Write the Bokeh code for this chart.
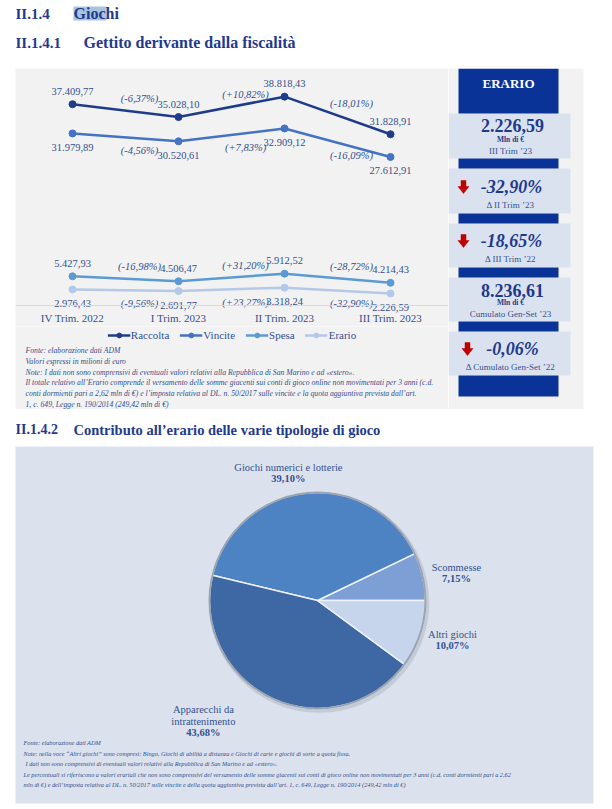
import numpy as np
from bokeh.plotting import figure
from bokeh.models import ColumnDataSource, Range1d, FixedTicker, Legend, LegendItem, Spacer
from bokeh.layouts import column, row
from bokeh.core.properties import value
from bokeh.embed import file_html
from bokeh.resources import INLINE

SERIF = "Liberation Serif"

# ---------------- data ----------------
quarters = ["IV Trim. 2022", "I Trim. 2023", "II Trim. 2023", "III Trim. 2023"]
raccolta = [37409.77, 35028.10, 38818.43, 31828.91]
vincite = [31979.89, 30520.61, 32909.12, 27612.91]
spesa = [5427.93, 4506.47, 5912.52, 4214.43]
erario = [2976.43, 2691.77, 3318.24, 2226.59]
series_names = ["Raccolta", "Vincite", "Spesa", "Erario"]

kpi_values = ["2.226,59", "-32,90%", "-18,65%", "8.236,61", "-0,06%"]
kpi_units = ["Mln di €", "", "", "Mln di €", ""]
kpi_captions = ["III Trim ’23", "Δ II Trim ’23", "Δ III Trim ’22",
                "Cumulato Gen-Set ’23", "Δ Cumulato Gen-Set ’22"]

pie_labels = ["Scommesse", "Giochi numerici e lotterie",
              "Apparecchi da\nintrattenimento", "Altri giochi"]
pie_shares = [7.15, 39.10, 43.68, 10.07]

notes_1 = [
    "Fonte: elaborazione dati ADM",
    "Valori espressi in milioni di euro",
    "Note: I dati non sono comprensivi di eventuali valori relativi alla Repubblica di San Marino e ad «estero».",
    "Il totale relativo all’Erario comprende il versamento delle somme giacenti sui conti di gioco online non movimentati per 3 anni (c.d.",
    "conti dormienti pari a 2,62 mln di €) e l’imposta relativa al DL. n. 50/2017 sulle vincite e la quota aggiuntiva prevista dall’art.",
    "1, c. 649, Legge n. 190/2014 (249,42 mln di €)",
]
notes_2 = [
    "Fonte: elaborazione dati ADM",
    "Note: nella voce “Altri giochi” sono compresi: Bingo, Giochi di abilità a distanza e Giochi di carte e giochi di sorte a quota fissa.",
    " I dati non sono comprensivi di eventuali valori relativi alla Repubblica di San Marino e ad «estero».",
    "Le percentuali si riferiscono a valori erariali che non sono comprensivi del versamento delle somme giacenti sui conti di gioco online non movimentati per 3 anni (c.d. conti dormienti pari a 2,62",
    "mln di €) e dell’imposta relativa al DL. n. 50/2017 sulle vincite e della quota aggiuntiva prevista dall’art. 1, c. 649, Legge n. 190/2014 (249,42 mln di €)",
]

# ---------------- styles ----------------
GRAY = "#f2f2f2"
PIE_BG = "#dbe2ed"
HEAD = "#1f3a8f"
TXT = "#33508f"
NAVY = "#1f3a8c"
DARK = "#0a3397"
LIGHT = "#dae2ef"
series_colors = ["#1f3c8a", "#4472c4", "#5b9bd5", "#b4c9e8"]
series_side = ["above", "below", "above", "below"]
pie_colors = ["#7e9fd5", "#4d82c3", "#3e68a4", "#c7d5ec"]

# full-width figures in the outer column share frame edges
BORDER_L, BORDER_R = 15, 19


def fmt_it(v):
    return f"{v:,.2f}".replace(",", "X").replace(".", ",").replace("X", ".")


def fmt_pct(a, b):
    return "(" + f"{(b / a - 1) * 100:+.2f}".replace(".", ",") + "%)"


def blank(width, height, xr, yr, bg="white", border="white", **kw):
    f = figure(width=width, height=height, x_range=xr, y_range=yr,
               output_backend="svg", toolbar_location=None,
               x_axis_location=None, y_axis_location=None,
               background_fill_color=bg, border_fill_color=border,
               outline_line_color=None, **kw)
    f.grid.visible = False
    return f


full_borders = dict(min_border_left=BORDER_L, min_border_right=BORDER_R,
                    min_border_top=0, min_border_bottom=0)

# ---------------- heading 1 ----------------
h1 = blank(612, 68, Range1d(BORDER_L, 612 - BORDER_R), Range1d(68, 0), **full_borders)
h1.quad(left=[73], right=[106], top=[6], bottom=[20], fill_color="#a9c4df", line_color=None)
h1.text(x=[15, 15], y=[13, 42], text=["II.1.4", "II.1.4.1"],
        text_font=value(SERIF), text_font_style="bold", text_font_size="15px",
        text_color=HEAD, text_baseline="middle")
h1.text(x=[73, 83], y=[13, 42], text=["Giochi", "Gettito derivante dalla fiscalità"],
        text_font=value(SERIF), text_font_style="bold", text_font_size="16px",
        text_color=HEAD, text_baseline="middle")

# ---------------- line chart ----------------
ch = figure(width=433, height=258, x_range=Range1d(-0.538, 3.547),
            y_range=Range1d(-3903, 44052), output_backend="svg", toolbar_location=None,
            y_axis_location=None, min_border_left=0, min_border_right=0,
            min_border_top=0, min_border_bottom=0,
            background_fill_color=GRAY, border_fill_color=GRAY, outline_line_color=None)
ch.grid.visible = False
idx = list(range(len(quarters)))
ax = ch.xaxis[0]
ax.fixed_location = 0
ax.ticker = FixedTicker(ticks=idx)
ax.major_label_overrides = {i: q for i, q in zip(idx, quarters)}
ax.major_tick_in = 0
ax.major_tick_out = 0
ax.minor_tick_in = 0
ax.minor_tick_out = 0
ax.axis_line_color = "#d9d9d9"
ax.major_label_standoff = 6
ax.major_label_text_font = SERIF
ax.major_label_text_font_size = "11px"
ax.major_label_text_color = TXT

for name, vals, col, side in zip(series_names, [raccolta, vincite, spesa, erario],
                                 series_colors, series_side):
    src = ColumnDataSource(dict(x=idx, y=vals, lab=[fmt_it(v) for v in vals]))
    ch.line("x", "y", source=src, line_color=col, line_width=2.5)
    ch.scatter("x", "y", source=src, size=7, fill_color=col, line_color=col)
    ch.text("x", "y", text="lab", source=src, text_font=value(SERIF),
            text_font_size="10.5px", text_color=TXT, text_align="center",
            text_baseline="middle", y_offset=-13 if side == "above" else 14)
    psrc = ColumnDataSource(dict(
        x=[i + 0.5 for i in idx[:-1]],
        y=[(a + b) / 2 for a, b in zip(vals[:-1], vals[1:])],
        lab=[fmt_pct(a, b) for a, b in zip(vals[:-1], vals[1:])]))
    ch.text("x", "y", text="lab", source=psrc, text_font=value(SERIF),
            text_font_style="italic", text_font_size="10.5px", text_color=TXT,
            text_align="center", text_baseline="middle", x_offset=14,
            y_offset=-12 if side == "above" else 13)

# ---------------- legend + notes under line chart ----------------
n1 = blank(433, 83, Range1d(0, 433), Range1d(83, 0), bg=GRAY, border=GRAY, min_border=0)
items = []
for name, col in zip(series_names, series_colors):
    # legend proxies placed outside the visible range
    lr = n1.line(x=[-50, -40], y=[-50, -50], line_color=col, line_width=2.5)
    sr = n1.scatter(x=[-50], y=[-50], size=7, fill_color=col, line_color=col)
    items.append(LegendItem(label=name, renderers=[lr, sr]))
leg = Legend(items=items, orientation="horizontal", location="top_center",
             background_fill_alpha=0, border_line_color=None,
             label_text_font=SERIF, label_text_font_size="11px", label_text_color=TXT,
             glyph_width=23, glyph_height=12, label_height=12, label_standoff=1,
             spacing=10, padding=0, margin=3)
n1.add_layout(leg)
n1.text(x=[10] * len(notes_1), y=[24 + 10.8 * i for i in range(len(notes_1))], text=notes_1,
        text_font=value(SERIF), text_font_style="italic", text_font_size="7.7px",
        text_color=TXT, text_baseline="middle")

# ---------------- right KPI panel ----------------
rp = blank(164, 341, Range1d(0, 164), Range1d(341, 0), min_border=0)
rp.quad(left=[0], right=[135], top=[0], bottom=[341], fill_color=GRAY, line_color=None)
light_y = [(45, 90), (100, 145), (155, 199), (209, 253), (263, 307)]
dark_y = [(0, 45), (90, 100), (145, 155), (199, 209), (253, 263), (307, 328)]
rp.quad(left=0, right=122, top=[a for a, b in light_y], bottom=[b for a, b in light_y],
        fill_color=LIGHT, line_color=None)
rp.quad(left=10, right=110, top=[a for a, b in dark_y], bottom=[b for a, b in dark_y],
        fill_color=DARK, line_color=None)
rp.text(x=[60], y=[15], text=["ERARIO"], text_font=value(SERIF), text_font_style="bold",
        text_font_size="13px", text_color="white", text_align="center", text_baseline="middle")

kpi_y = [57, 118, 172, 222, 280]
kpi_x = [64, 63, 63, 64, 64]
kpi_arrow_x = [None, 15, 15, None, 19]
unit_y = [71, None, None, 234, None]
cap_y = [82, 136, 190, 245, 298]
for k, v in enumerate(kpi_values):
    pct = v.endswith("%")
    rp.text(x=[kpi_x[k]], y=[kpi_y[k]], text=[v], text_font=value(SERIF),
            text_font_style="bold italic" if pct else "bold", text_font_size="18px",
            text_color=NAVY, text_align="center", text_baseline="middle")
    if kpi_units[k]:
        rp.text(x=[62], y=[unit_y[k]], text=[kpi_units[k]], text_font=value(SERIF),
                text_font_style="bold", text_font_size="7.5px", text_color=NAVY,
                text_align="center", text_baseline="middle")
    rp.text(x=[62], y=[cap_y[k]], text=[kpi_captions[k]], text_font=value(SERIF),
            text_font_size="9px", text_color=TXT, text_align="center", text_baseline="middle")
    if kpi_arrow_x[k] is not None:
        cx, cy = kpi_arrow_x[k], kpi_y[k]
        rp.patch(x=[cx - 2.5, cx + 2.5, cx + 2.5, cx + 5.5, cx, cx - 5.5, cx - 2.5],
                 y=[cy - 6, cy - 6, cy, cy, cy + 7, cy, cy],
                 fill_color="#c00000", line_color="#c00000", line_width=0.5)

# ---------------- heading 2 ----------------
h2 = blank(612, 37, Range1d(BORDER_L, 612 - BORDER_R), Range1d(37, 0), **full_borders)
h2.text(x=[15], y=[20], text=["II.1.4.2"],
        text_font=value(SERIF), text_font_style="bold", text_font_size="14px",
        text_color=HEAD, text_baseline="middle")
h2.text(x=[73], y=[20], text=["Contributo all’erario delle varie tipologie di gioco"],
        text_font=value(SERIF), text_font_style="bold", text_font_size="14.5px",
        text_color=HEAD, text_baseline="middle")

# ---------------- pie ----------------
pie = blank(612, 363, Range1d(-2.796, 2.556), Range1d(-1.880, 1.426), bg=PIE_BG,
            min_border_left=BORDER_L, min_border_right=BORDER_R,
            min_border_top=0, min_border_bottom=6)
pie.extra_x_ranges = {"px": Range1d(0, 578)}
pie.extra_y_ranges = {"px": Range1d(357, 0)}

fr = np.array(pie_shares) / 100.0
ends = np.cumsum(fr) * 2 * np.pi
starts = ends - fr * 2 * np.pi
pie.circle(x=[0.015], y=[-0.02], radius=1.02, fill_color="#b3bccb", line_color=None, fill_alpha=0.6)
pie.wedge(x=0, y=0, radius=1.0, start_angle=starts, end_angle=ends, direction="anticlock",
          fill_color=pie_colors, line_color="#eef2f8", line_width=1.5)
pie.circle(x=[0], y=[0], radius=1.0, fill_color=None, line_color="#9aa4b2", line_width=2)

pie_label_pos = [(1.287, 0.306), (-0.269, 1.231), (-1.056, -1.009), (1.25, -0.315)]
for (lx, ly), lab, sh in zip(pie_label_pos, pie_labels, pie_shares):
    lines = lab.split("\n")
    pie.text(x=[lx] * len(lines), y=[ly] * len(lines), text=lines,
             y_offset=[12 * i for i in range(len(lines))],
             text_font=value(SERIF), text_font_size="10.5px", text_color=TXT,
             text_align="center", text_baseline="middle")
    pie.text(x=[lx], y=[ly], text=[f"{sh:.2f}".replace(".", ",") + "%"],
             y_offset=12 * len(lines) - 1, text_font=value(SERIF), text_font_style="bold",
             text_font_size="10.5px", text_color=TXT, text_align="center",
             text_baseline="middle")

pie.text(x=[8, 8, 10, 8, 8], y=[296, 307, 317, 328, 338], text=notes_2,
         x_range_name="px", y_range_name="px",
         text_font=value(SERIF), text_font_style="italic", text_font_size="6.25px",
         text_color=TXT, text_baseline="middle")

layout = column(
    h1,
    row(Spacer(width=15, height=341), column(ch, n1), rp),
    h2,
    pie,
)

open("out.html", "w").write(file_html(layout, INLINE))
